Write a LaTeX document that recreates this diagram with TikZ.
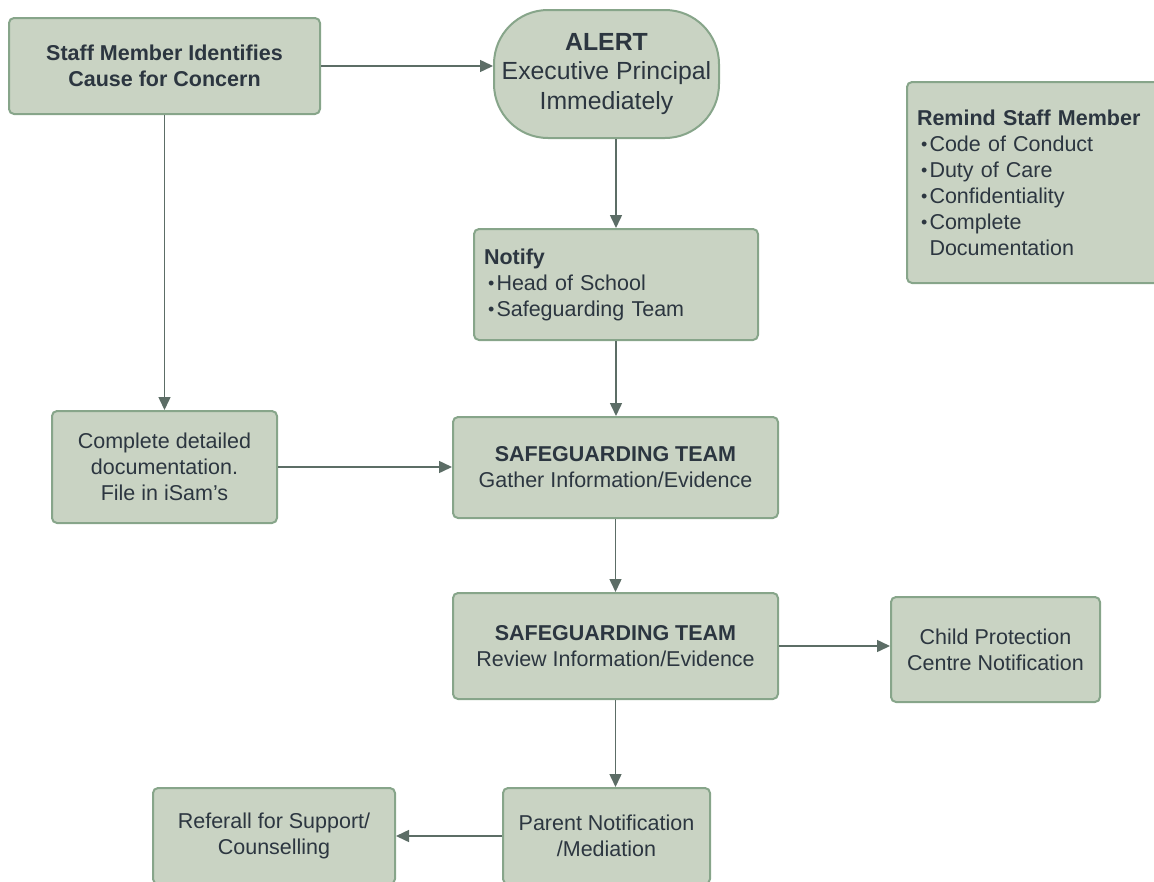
\documentclass[tikz,border=0pt]{standalone}
\usepackage{fontspec}
\setmainfont{Liberation Sans}
\usetikzlibrary{arrows.meta, positioning}

\definecolor{boxfill}{HTML}{C9D3C3}
\definecolor{boxline}{HTML}{87A58A}
\definecolor{ink}{HTML}{2C3640}
\definecolor{arrowc}{HTML}{5C6D66}

\newcommand{\bitem}[1]{\hspace*{4pt}\makebox[8.5pt][l]{\raisebox{0.5pt}{\fontsize{18}{18}\selectfont\textbullet}}#1}

\begin{document}
\begin{tikzpicture}[x=1pt, y=-1pt,
	box/.style={draw=boxline, fill=boxfill, line width=2pt, rounded corners=5pt,
		text=ink, inner sep=0pt, align=center, font=\fontsize{21.5}{26}\selectfont},
	head/.style={box, font=\fontsize{21.5}{26}\selectfont\bfseries},
	listbox/.style={box, align=left, inner xsep=10pt},
	flow/.style={draw=arrowc, line width=1.5pt, -{Triangle[length=13pt, width=12pt]}}]
	\clip (0,0) rectangle (1154,881);
	\node (staff) [head, minimum width=311pt, minimum height=96pt] at (164.5,66) {Staff Member Identifies\\Cause for Concern};
	\node (alert) [box, rounded corners=54pt, minimum width=225pt, minimum height=128pt,
		font=\fontsize{24.8}{29.5}\selectfont] at (606.5,74) {\textbf{ALERT}\\Executive Principal\\Immediately};
	\node (remind) [listbox, text width=238pt, minimum height=201pt] at (1036,182.5)
		{\textbf{Remind Staff Member}\\\bitem{Code of Conduct}\\\bitem{Duty of Care}\\\bitem{Confidentiality}\\\bitem{Complete}\\\hspace*{12.5pt}Documentation};
	\node (notify) [listbox, text width=264pt, minimum height=111pt] at (616,284.5)
		{\textbf{Notify}\\\bitem{Head of School}\\\bitem{Safeguarding Team}};
	\node (doc) [box, minimum width=225pt, minimum height=112pt] at (164.5,467) {Complete detailed\\documentation.\\File in iSam's};
	\node (sg1) [box, minimum width=325pt, minimum height=101pt] at (615.5,467.5) {\textbf{SAFEGUARDING TEAM}\\Gather Information/Evidence};
	\node (sg2) [box, minimum width=325pt, minimum height=106pt] at (615.5,646) {\textbf{SAFEGUARDING TEAM}\\Review Information/Evidence};
	\node (child) [box, minimum width=209pt, minimum height=105pt] at (995.5,649.5) {Child Protection\\Centre Notification};
	\node (parent) [box, minimum width=207pt, minimum height=96pt] at (606.5,836) {Parent Notification\\/Mediation};
	\node (referall) [box, minimum width=242pt, minimum height=96pt] at (274,836) {Referall for Support/\\Counselling};
	\path
		(staff.east) edge [flow] (staff.east -| alert.west)
		(notify.north |- alert.south) edge [flow] (notify.north)
		(notify.south) edge [flow] (notify.south |- sg1.north)
		(staff) edge [flow] (doc)
		(doc.east) edge [flow] (doc.east -| sg1.west)
		(sg1) edge [flow] (sg2)
		(sg2.east) edge [flow] (sg2.east -| child.west)
		(sg2.south) edge [flow] (sg2.south |- parent.north)
		(parent) edge [flow] (referall)
	;
\end{tikzpicture}
\end{document}
